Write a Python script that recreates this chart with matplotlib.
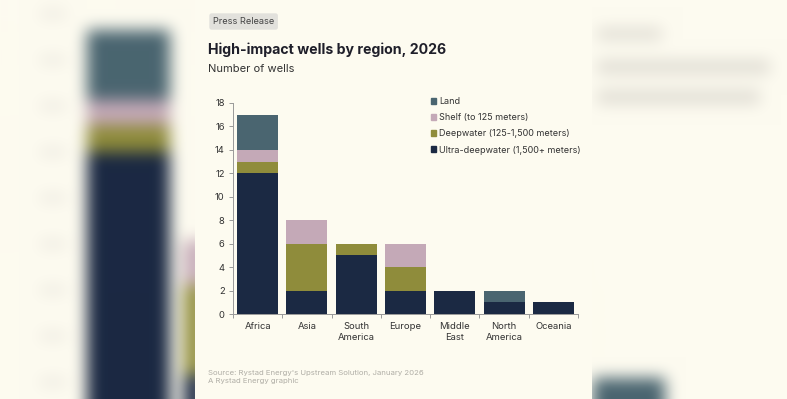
import numpy as np
import matplotlib.pyplot as plt
from matplotlib.patches import Patch

# data
regions = ["Africa", "Asia", "South\nAmerica", "Europe", "Middle\nEast", "North\nAmerica", "Oceania"]
ultra_deep = [12, 2, 5, 2, 2, 1, 1]
deepwater = [1, 4, 1, 2, 0, 0, 0]
shelf = [1, 2, 0, 2, 0, 0, 0]
land = [3, 0, 0, 0, 0, 1, 0]

series_names = ["Ultra-deepwater (1,500+ meters)", "Deepwater (125-1,500 meters)",
                "Shelf (to 125 meters)", "Land"]
series_colors = ["#1b2943", "#8f8c3b", "#c4a9b7", "#4a6570"]

CREAM = "#fdfbf0"
W, H = 787, 399

plt.rcParams['font.family'] = ['Inter', 'DejaVu Sans']


def hex_rgb(h):
    h = h.lstrip("#")
    return np.array([int(h[i:i + 2], 16) / 255 for i in (0, 2, 4)])


def box_blur(img, r):
    out = img
    for axis in (0, 1):
        pad = [(0, 0)] * 3
        pad[axis] = (r + 1, r)
        p = np.pad(out, pad, mode="edge")
        c = np.cumsum(p, axis=axis)
        n = out.shape[axis]
        hi = np.take(c, np.arange(2 * r + 1, 2 * r + 1 + n), axis=axis)
        lo = np.take(c, np.arange(0, n), axis=axis)
        out = (hi - lo) / (2 * r + 1)
    return out


# blurred backdrop on both sides of the card
bg_img = np.ones((H, W, 3)) * hex_rgb(CREAM)
def paint(x0, x1, y0, y1, col):
    bg_img[y0:y1, x0:x1] = hex_rgb(col)

paint(87, 170, 30, 100, series_colors[3])
paint(87, 170, 100, 125, series_colors[2])
paint(87, 170, 125, 152, series_colors[1])
paint(87, 170, 152, 420, series_colors[0])
paint(184, 205, 240, 285, series_colors[2])
paint(184, 205, 285, 375, series_colors[1])
paint(184, 205, 375, 420, series_colors[0])
for yy in range(10, 399, 46):
    paint(40, 66, yy, yy + 8, "#ebe8df")
paint(597, 662, 28, 40, "#e0ddd4")
paint(597, 770, 60, 74, "#e0ddd4")
paint(597, 760, 90, 104, "#e0ddd4")
paint(593, 665, 378, 420, series_colors[3])
for _ in range(3):
    bg_img = box_blur(bg_img, 7)
bg_img[:, 195:592] = hex_rgb(CREAM)

fig = plt.figure(figsize=(W / 100, H / 100), dpi=100)
fig.patch.set_facecolor(CREAM)
bg = fig.add_axes([0, 0, 1, 1], zorder=0)
bg.imshow(np.clip(bg_img, 0, 1), extent=(0, W, H, 0), aspect="auto", interpolation="bilinear")
bg.axis("off")

ax = fig.add_axes([233 / W, 1 - 314 / H, 345 / W, 211 / H], zorder=1)
ax.set_facecolor("none")

x = np.arange(len(regions))
bottom = np.zeros(len(regions))
for vals, name, col in zip([ultra_deep, deepwater, shelf, land], series_names, series_colors):
    ax.bar(x, vals, width=0.83, bottom=bottom, color=col, label=name)
    bottom += np.array(vals)

ax.set_xlim(-0.5, len(regions) - 0.5)
ax.set_ylim(0, 18)
ax.set_yticks(range(0, 19, 2))
ax.set_xticks(x)
ax.set_xticklabels(regions, fontsize=6.8, color="#333333", linespacing=1.3)
ax.set_xticks(np.arange(-0.5, len(regions)), minor=True)
ax.tick_params(axis="x", which="major", length=0, pad=6)
ax.tick_params(axis="x", which="minor", length=3, color="#999999", width=0.7)
ax.tick_params(axis="y", length=3, color="#999999", width=0.7, labelsize=6.8,
               labelcolor="#333333", pad=3)
for s in ["top", "right"]:
    ax.spines[s].set_visible(False)
for s in ["left", "bottom"]:
    ax.spines[s].set_color("#999999")
    ax.spines[s].set_linewidth(0.7)

handles = [Patch(color=c, label=n) for n, c in zip(series_names, series_colors)][::-1]
ax.legend(handles=handles, loc="upper left", bbox_to_anchor=(0.55, 1.065), frameon=False,
          fontsize=6.5, handlelength=0.6, handleheight=0.6, handletextpad=0.3,
          labelspacing=0.78, labelcolor="#333333")

# header and footer
fig.text(213 / W, 1 - 21.5 / H, "Press Release", fontsize=6.6, color="#444444", va="center",
         bbox=dict(boxstyle="round,pad=0.4,rounding_size=0.25", fc="#e2e1dc", ec="none"))
fig.text(208 / W, 1 - 50 / H, "High-impact wells by region, 2026", fontsize=10.2,
         fontweight="bold", color="#1f1f2a", va="center")
fig.text(208 / W, 1 - 69 / H, "Number of wells", fontsize=8, color="#333333", va="center")
fig.text(208 / W, 1 - 373 / H, "Source: Rystad Energy's Upstream Solution, January 2026",
         fontsize=5.6, color="#b0aea6", va="center")
fig.text(208 / W, 1 - 381.5 / H, "A Rystad Energy graphic", fontsize=5.6, color="#b0aea6",
         va="center")

fig.savefig("out.png", dpi=100, facecolor=CREAM)
